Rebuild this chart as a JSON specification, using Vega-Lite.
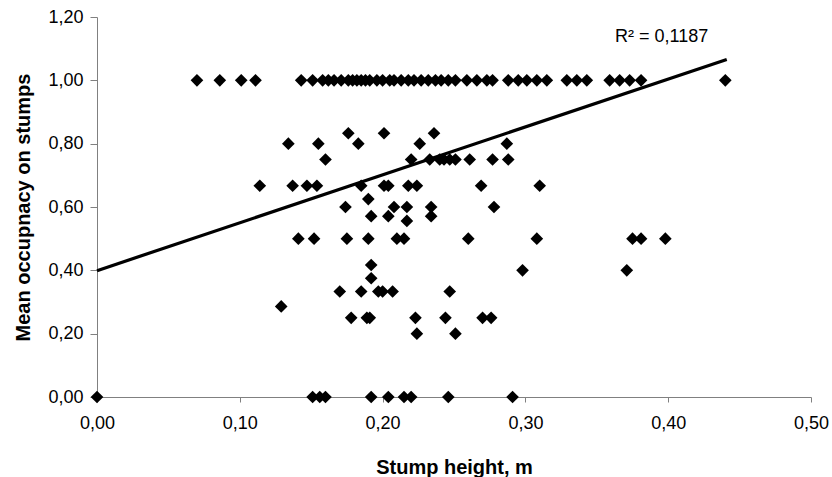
{
  "$schema": "https://vega.github.io/schema/vega-lite/v6.json",
  "width": 714,
  "height": 380,
  "autosize": {"type": "none"},
  "padding": {"left": 97, "top": 17, "right": 21, "bottom": 80},
  "background": "white",
  "config": {"view": {"stroke": null}, "font": "Liberation Sans"},
  "datasets": {
    "points": [
      {"height": 0.070, "occupancy": 1}, {"height": 0.086, "occupancy": 1}, {"height": 0.101, "occupancy": 1}, {"height": 0.111, "occupancy": 1},
      {"height": 0.143, "occupancy": 1}, {"height": 0.151, "occupancy": 1}, {"height": 0.158, "occupancy": 1}, {"height": 0.162, "occupancy": 1}, {"height": 0.166, "occupancy": 1},
      {"height": 0.171, "occupancy": 1}, {"height": 0.176, "occupancy": 1}, {"height": 0.179, "occupancy": 1}, {"height": 0.182, "occupancy": 1}, {"height": 0.185, "occupancy": 1},
      {"height": 0.188, "occupancy": 1}, {"height": 0.191, "occupancy": 1}, {"height": 0.196, "occupancy": 1}, {"height": 0.200, "occupancy": 1}, {"height": 0.205, "occupancy": 1},
      {"height": 0.208, "occupancy": 1}, {"height": 0.213, "occupancy": 1}, {"height": 0.218, "occupancy": 1}, {"height": 0.222, "occupancy": 1},
      {"height": 0.227, "occupancy": 1}, {"height": 0.232, "occupancy": 1}, {"height": 0.237, "occupancy": 1}, {"height": 0.241, "occupancy": 1},
      {"height": 0.246, "occupancy": 1}, {"height": 0.251, "occupancy": 1}, {"height": 0.259, "occupancy": 1}, {"height": 0.266, "occupancy": 1},
      {"height": 0.273, "occupancy": 1}, {"height": 0.277, "occupancy": 1}, {"height": 0.288, "occupancy": 1}, {"height": 0.295, "occupancy": 1},
      {"height": 0.301, "occupancy": 1}, {"height": 0.308, "occupancy": 1}, {"height": 0.315, "occupancy": 1}, {"height": 0.329, "occupancy": 1},
      {"height": 0.336, "occupancy": 1}, {"height": 0.343, "occupancy": 1}, {"height": 0.359, "occupancy": 1}, {"height": 0.366, "occupancy": 1},
      {"height": 0.373, "occupancy": 1}, {"height": 0.381, "occupancy": 1}, {"height": 0.440, "occupancy": 1},
      {"height": 0.176, "occupancy": 0.833}, {"height": 0.201, "occupancy": 0.833}, {"height": 0.236, "occupancy": 0.833},
      {"height": 0.134, "occupancy": 0.8}, {"height": 0.155, "occupancy": 0.8}, {"height": 0.183, "occupancy": 0.8}, {"height": 0.226, "occupancy": 0.8}, {"height": 0.287, "occupancy": 0.8},
      {"height": 0.160, "occupancy": 0.75}, {"height": 0.220, "occupancy": 0.75}, {"height": 0.233, "occupancy": 0.75}, {"height": 0.240, "occupancy": 0.75},
      {"height": 0.243, "occupancy": 0.75}, {"height": 0.247, "occupancy": 0.75}, {"height": 0.251, "occupancy": 0.75}, {"height": 0.261, "occupancy": 0.75},
      {"height": 0.277, "occupancy": 0.75}, {"height": 0.288, "occupancy": 0.75},
      {"height": 0.114, "occupancy": 0.667}, {"height": 0.137, "occupancy": 0.667}, {"height": 0.147, "occupancy": 0.667}, {"height": 0.154, "occupancy": 0.667},
      {"height": 0.185, "occupancy": 0.667}, {"height": 0.201, "occupancy": 0.667}, {"height": 0.204, "occupancy": 0.667}, {"height": 0.218, "occupancy": 0.667},
      {"height": 0.224, "occupancy": 0.667}, {"height": 0.269, "occupancy": 0.667}, {"height": 0.310, "occupancy": 0.667},
      {"height": 0.190, "occupancy": 0.625},
      {"height": 0.174, "occupancy": 0.6}, {"height": 0.208, "occupancy": 0.6}, {"height": 0.217, "occupancy": 0.6}, {"height": 0.234, "occupancy": 0.6}, {"height": 0.278, "occupancy": 0.6},
      {"height": 0.192, "occupancy": 0.571}, {"height": 0.204, "occupancy": 0.571}, {"height": 0.234, "occupancy": 0.571},
      {"height": 0.217, "occupancy": 0.556},
      {"height": 0.141, "occupancy": 0.5}, {"height": 0.152, "occupancy": 0.5}, {"height": 0.175, "occupancy": 0.5}, {"height": 0.190, "occupancy": 0.5},
      {"height": 0.210, "occupancy": 0.5}, {"height": 0.215, "occupancy": 0.5}, {"height": 0.260, "occupancy": 0.5}, {"height": 0.308, "occupancy": 0.5},
      {"height": 0.375, "occupancy": 0.5}, {"height": 0.381, "occupancy": 0.5}, {"height": 0.398, "occupancy": 0.5},
      {"height": 0.192, "occupancy": 0.417},
      {"height": 0.298, "occupancy": 0.4}, {"height": 0.371, "occupancy": 0.4},
      {"height": 0.192, "occupancy": 0.375},
      {"height": 0.170, "occupancy": 0.333}, {"height": 0.185, "occupancy": 0.333}, {"height": 0.197, "occupancy": 0.333}, {"height": 0.200, "occupancy": 0.333},
      {"height": 0.207, "occupancy": 0.333}, {"height": 0.247, "occupancy": 0.333},
      {"height": 0.129, "occupancy": 0.286},
      {"height": 0.178, "occupancy": 0.25}, {"height": 0.189, "occupancy": 0.25}, {"height": 0.191, "occupancy": 0.25}, {"height": 0.223, "occupancy": 0.25},
      {"height": 0.244, "occupancy": 0.25}, {"height": 0.270, "occupancy": 0.25}, {"height": 0.276, "occupancy": 0.25},
      {"height": 0.224, "occupancy": 0.2}, {"height": 0.251, "occupancy": 0.2},
      {"height": 0.0, "occupancy": 0}, {"height": 0.151, "occupancy": 0}, {"height": 0.156, "occupancy": 0}, {"height": 0.160, "occupancy": 0},
      {"height": 0.192, "occupancy": 0}, {"height": 0.204, "occupancy": 0}, {"height": 0.215, "occupancy": 0}, {"height": 0.220, "occupancy": 0},
      {"height": 0.246, "occupancy": 0}, {"height": 0.291, "occupancy": 0}
    ],
    "trend": [
      {"height": 0.0, "occupancy": 0.399},
      {"height": 0.441, "occupancy": 1.066}
    ],
    "note": [
      {"height": 0.428, "occupancy": 1.136, "label": "R² = 0,1187"}
    ]
  },
  "layer": [
    {
      "data": {"name": "points"},
      "mark": {"type": "point", "shape": "diamond", "filled": true, "color": "black", "size": 160, "opacity": 1},
      "encoding": {
        "x": {
          "field": "height", "type": "quantitative",
          "scale": {"domain": [0, 0.5], "nice": false},
          "axis": {
            "title": "Stump height, m",
            "values": [0, 0.1, 0.2, 0.3, 0.4, 0.5],
            "labelExpr": "replace(format(datum.value, '.2f'), '.', ',')",
            "labelFontSize": 18, "labelColor": "black", "labelPadding": 12,
            "labelFlush": false, "labelOverlap": false,
            "tickSize": 5, "tickColor": "#808080", "domainColor": "#808080",
            "grid": false,
            "titleFontSize": 20, "titleFontWeight": "bold", "titleColor": "black",
            "titleBaseline": "alphabetic", "titleY": 76
          }
        },
        "y": {
          "field": "occupancy", "type": "quantitative",
          "scale": {"domain": [0, 1.2], "nice": false},
          "axis": {
            "title": "Mean occupnacy on stumps",
            "values": [0, 0.2, 0.4, 0.6, 0.8, 1.0, 1.2],
            "labelExpr": "replace(format(datum.value, '.2f'), '.', ',')",
            "labelFontSize": 18, "labelColor": "black", "labelPadding": 7,
            "labelFlush": false, "labelOverlap": false,
            "tickSize": 7, "tickColor": "#808080", "domainColor": "#808080",
            "grid": false,
            "titleFontSize": 20, "titleFontWeight": "bold", "titleColor": "black",
            "titleX": -74, "titleBaseline": "middle"
          }
        }
      }
    },
    {
      "data": {"name": "trend"},
      "mark": {"type": "line", "color": "black", "strokeWidth": 3.2},
      "encoding": {
        "x": {"field": "height", "type": "quantitative"},
        "y": {"field": "occupancy", "type": "quantitative"}
      }
    },
    {
      "data": {"name": "note"},
      "mark": {"type": "text", "align": "right", "baseline": "middle", "fontSize": 18, "color": "black"},
      "encoding": {
        "x": {"field": "height", "type": "quantitative"},
        "y": {"field": "occupancy", "type": "quantitative"},
        "text": {"field": "label"}
      }
    }
  ]
}
